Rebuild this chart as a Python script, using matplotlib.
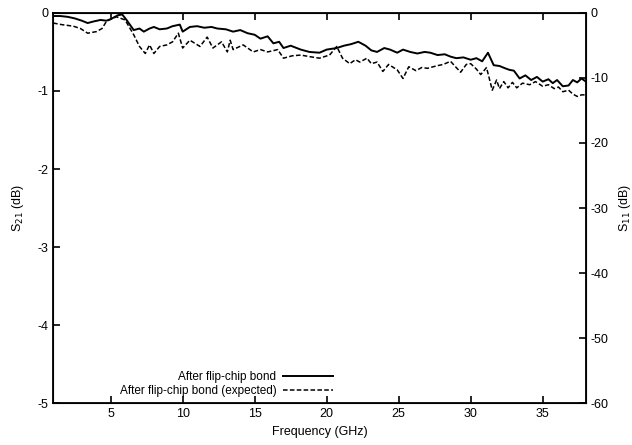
import matplotlib
matplotlib.use('Agg')
import matplotlib.pyplot as plt

plt.rcParams['font.family'] = ['Liberation Sans', 'DejaVu Sans']
plt.rcParams['axes.unicode_minus'] = False

# frequency (GHz) and S21 (dB)
freq_meas = [1.0, 1.5, 2.0, 2.5, 3.0, 3.4, 3.8, 4.3, 4.7, 5.0, 5.5, 5.8, 6.1, 6.6, 7.0, 7.3,
             7.7, 8.0, 8.4, 8.9, 9.3, 9.8, 10.0, 10.5, 11.0, 11.5, 12.0, 12.4, 13.0, 13.5,
             14.0, 14.5, 15.0, 15.4, 15.9, 16.3, 16.7, 17.0, 17.5, 18.2, 18.8, 19.5, 20.0,
             20.7, 21.2, 21.7, 22.2, 22.7, 23.1, 23.5, 24.0, 24.4, 24.9, 25.3, 25.8, 26.3,
             26.8, 27.2, 27.7, 28.2, 28.6, 29.0, 29.5, 30.0, 30.4, 30.8, 31.2, 31.6, 32.0,
             32.4, 32.7, 33.0, 33.4, 33.8, 34.2, 34.6, 35.0, 35.4, 35.7, 36.0, 36.4, 36.8,
             37.1, 37.4, 37.7, 38.0]
s21_meas = [-0.04, -0.04, -0.05, -0.07, -0.10, -0.13, -0.11, -0.09, -0.10, -0.08, -0.03, -0.02,
            -0.09, -0.22, -0.20, -0.24, -0.20, -0.18, -0.21, -0.20, -0.17, -0.15, -0.24, -0.18,
            -0.17, -0.19, -0.18, -0.20, -0.21, -0.24, -0.22, -0.26, -0.28, -0.33, -0.30, -0.39,
            -0.37, -0.45, -0.42, -0.47, -0.50, -0.51, -0.47, -0.45, -0.42, -0.40, -0.37, -0.42,
            -0.48, -0.50, -0.45, -0.47, -0.51, -0.47, -0.50, -0.52, -0.50, -0.51, -0.54, -0.53,
            -0.56, -0.58, -0.57, -0.60, -0.58, -0.62, -0.51, -0.67, -0.68, -0.71, -0.73, -0.74,
            -0.84, -0.80, -0.86, -0.82, -0.88, -0.85, -0.90, -0.86, -0.94, -0.93, -0.86, -0.89,
            -0.84, -0.88]

freq_exp = [1.0, 1.6, 2.4, 2.9, 3.4, 4.0, 4.4, 4.7, 5.0, 5.4, 6.0, 6.6, 7.0, 7.4, 7.7, 8.0,
            8.4, 8.9, 9.3, 9.7, 10.0, 10.5, 11.2, 11.7, 12.1, 12.7, 13.1, 13.3, 13.5, 14.2,
            14.9, 15.4, 15.9, 16.6, 17.0, 17.6, 18.2, 18.8, 19.5, 20.2, 20.7, 21.1, 21.6,
            22.0, 22.3, 22.8, 23.1, 23.5, 23.9, 24.3, 24.9, 25.3, 25.7, 26.2, 26.6, 27.0,
            27.6, 28.1, 28.6, 29.0, 29.3, 29.7, 30.0, 30.4, 30.7, 31.1, 31.5, 31.8, 32.0,
            32.3, 32.6, 32.9, 33.2, 33.6, 34.1, 34.5, 35.0, 35.4, 35.8, 36.1, 36.4, 36.8,
            37.1, 37.4, 37.7, 38.0]
s21_exp = [-0.13, -0.15, -0.17, -0.20, -0.26, -0.24, -0.20, -0.11, -0.08, -0.05, -0.09, -0.28,
           -0.43, -0.52, -0.41, -0.52, -0.43, -0.41, -0.37, -0.26, -0.45, -0.35, -0.43, -0.31,
           -0.45, -0.37, -0.50, -0.35, -0.47, -0.41, -0.50, -0.47, -0.50, -0.47, -0.58, -0.55,
           -0.54, -0.56, -0.58, -0.54, -0.43, -0.58, -0.65, -0.60, -0.63, -0.58, -0.65, -0.63,
           -0.75, -0.66, -0.73, -0.84, -0.69, -0.74, -0.70, -0.71, -0.68, -0.66, -0.62, -0.70,
           -0.76, -0.66, -0.65, -0.72, -0.79, -0.70, -0.99, -0.86, -0.97, -0.88, -0.96, -0.89,
           -0.96, -0.90, -0.92, -0.88, -0.94, -0.92, -0.97, -0.95, -1.01, -0.99, -1.04, -1.07,
           -1.05, -1.05]


def main():
    fig = plt.figure(figsize=(6.32, 4.45), dpi=100)
    ax = fig.add_axes([0.084, 0.094, 0.843, 0.877])

    ax.plot(freq_meas, s21_meas, color='black', lw=1.4, label='After flip-chip bond')
    ax.plot(freq_exp, s21_exp, color='black', lw=1.1, ls=(0, (3, 1.5)),
            label='After flip-chip bond (expected)')

    ax.set_xlim(1, 38)
    ax.set_ylim(-5, 0)
    ax.set_xticks([5, 10, 15, 20, 25, 30, 35])
    ax.set_yticks([-5, -4, -3, -2, -1, 0])
    ax.set_xlabel('Frequency (GHz)', fontsize=9, labelpad=4)
    ax.set_ylabel('S$_{21}$ (dB)', fontsize=9, labelpad=8)
    ax.tick_params(direction='in', top=True, length=5, labelsize=9, width=1.2)
    for sp in ax.spines.values():
        sp.set_linewidth(1.3)

    # right axis (S11 scale)
    ax2 = ax.twinx()
    ax2.set_ylim(-60, 0)
    ax2.set_yticks([-60, -50, -40, -30, -20, -10, 0])
    ax2.tick_params(direction='in', length=5, labelsize=9, width=1.2)
    ax2.set_ylabel('S$_{11}$ (dB)', fontsize=9, labelpad=6)

    ax.legend(loc='lower center', bbox_to_anchor=(0.325, -0.005), frameon=False,
              markerfirst=False, fontsize=8.5, handlelength=4.2, borderpad=0.2,
              labelspacing=0.15, handletextpad=0.6)
    for t in ax.get_legend().get_texts():
        t.set_ha('right')

    fig.savefig('out.png', dpi=100)


if __name__ == '__main__':
    main()
